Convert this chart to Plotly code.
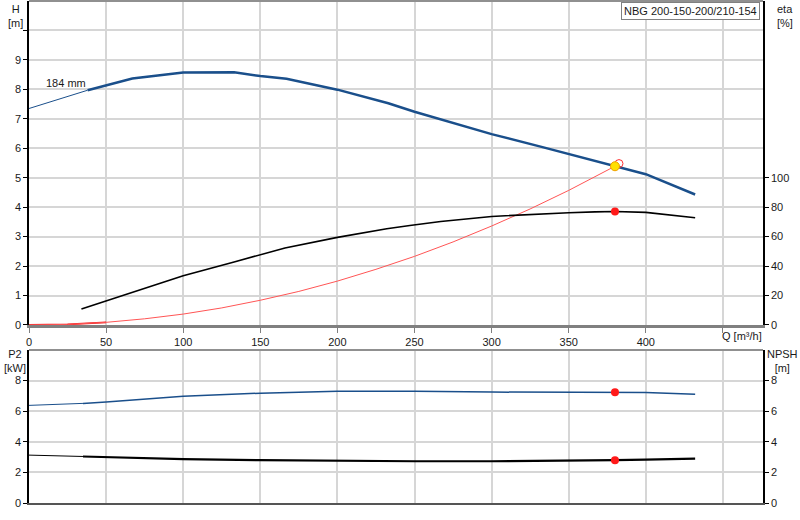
import plotly.graph_objs as go

# pump curve data
q_h_thin = [0, 38]
h_thin = [7.35, 7.97]
q_h = [38, 50, 67, 100, 133, 150, 167, 200, 233, 250, 267, 300, 333, 350, 367, 380, 400, 432]
h = [7.97, 8.14, 8.37, 8.57, 8.58, 8.45, 8.36, 7.99, 7.53, 7.24, 6.98, 6.48, 6.04, 5.81, 5.57, 5.39, 5.12, 4.43]

q_eta = [34, 67, 100, 133, 149, 166, 200, 232, 247, 267, 300, 333, 350, 367, 380, 400, 432]
eta = [10.8, 22.4, 33.5, 42.8, 47.3, 52.3, 59.5, 65.4, 67.6, 70.3, 73.7, 75.5, 76.2, 76.8, 77.1, 76.5, 72.8]

q_sys = [0, 25, 50, 75, 100, 125, 150, 175, 200, 225, 250, 275, 300, 325, 350, 380]
h_sys = [0, 0.02, 0.09, 0.21, 0.37, 0.58, 0.84, 1.14, 1.49, 1.89, 2.33, 2.82, 3.36, 3.94, 4.57, 5.39]

q_p2_thin = [0, 35]
p2_thin = [6.38, 6.51]
q_p2 = [35, 50, 100, 150, 200, 250, 300, 350, 380, 400, 432]
p2 = [6.51, 6.6, 6.97, 7.18, 7.3, 7.31, 7.25, 7.23, 7.23, 7.22, 7.1]

q_npsh_thin = [0, 35]
npsh_thin = [3.13, 3.04]
q_npsh = [35, 50, 100, 150, 200, 250, 300, 350, 380, 400, 432]
npsh = [3.04, 3.0, 2.87, 2.8, 2.76, 2.73, 2.73, 2.76, 2.8, 2.84, 2.9]

duty_q = 380
duty_h = 5.39
duty_eta = 77.1
duty_p2 = 7.23
duty_npsh = 2.8
req_q = 382.6
req_h = 5.48

x_ticks = [0, 50, 100, 150, 200, 250, 300, 350, 400, 450]
x_labels = ['0', '50', '100', '150', '200', '250', '300', '350', '400', '']
h_ticks = list(range(11))
h_labels = [str(v) for v in range(10)] + ['']
eta_ticks = [0, 20, 40, 60, 80, 100]
p_ticks = [0, 2, 4, 6, 8]

BLUE = '#1a4f8b'
GRID = '#d6d6d6'
FONT = dict(family='Arial, Liberation Sans, sans-serif', size=11, color='#1a1a1a')

fig = go.Figure()

# top panel
fig.add_trace(go.Scatter(x=q_sys[:3], y=h_sys[:3], mode='lines', line={'color': '#ee2020', 'width': 1.8}, xaxis='x', yaxis='y'))
fig.add_trace(go.Scatter(x=q_sys, y=h_sys, mode='lines', line={'color': '#ff5555', 'width': 1}, xaxis='x', yaxis='y'))
fig.add_trace(go.Scatter(x=q_h_thin, y=h_thin, mode='lines', line={'color': BLUE, 'width': 1}, xaxis='x', yaxis='y'))
fig.add_trace(go.Scatter(x=q_h, y=h, mode='lines', line={'color': BLUE, 'width': 2.5}, xaxis='x', yaxis='y'))
fig.add_trace(go.Scatter(x=q_eta, y=eta, mode='lines', line={'color': 'black', 'width': 1.6}, xaxis='x', yaxis='y2'))
fig.add_trace(go.Scatter(x=[req_q], y=[req_h], mode='markers',
                         marker={'size': 8, 'color': 'rgba(0,0,0,0)', 'line': {'color': '#ff3030', 'width': 1}},
                         xaxis='x', yaxis='y'))
fig.add_trace(go.Scatter(x=[duty_q], y=[duty_h], mode='markers',
                         marker={'size': 9, 'color': '#ffe000', 'line': {'color': '#f0a000', 'width': 1}},
                         xaxis='x', yaxis='y'))
fig.add_trace(go.Scatter(x=[duty_q], y=[duty_eta], mode='markers', marker={'size': 8, 'color': '#ff1a1a'},
                         xaxis='x', yaxis='y2'))

# bottom panel
fig.add_trace(go.Scatter(x=q_p2_thin, y=p2_thin, mode='lines', line={'color': BLUE, 'width': 1}, xaxis='x2', yaxis='y3'))
fig.add_trace(go.Scatter(x=q_p2, y=p2, mode='lines', line={'color': BLUE, 'width': 1.5}, xaxis='x2', yaxis='y3'))
fig.add_trace(go.Scatter(x=q_npsh_thin, y=npsh_thin, mode='lines', line={'color': 'black', 'width': 1}, xaxis='x2', yaxis='y4'))
fig.add_trace(go.Scatter(x=q_npsh, y=npsh, mode='lines', line={'color': 'black', 'width': 2.2}, xaxis='x2', yaxis='y4'))
fig.add_trace(go.Scatter(x=[duty_q], y=[duty_p2], mode='markers', marker={'size': 8, 'color': '#ff1a1a'},
                         xaxis='x2', yaxis='y3'))
fig.add_trace(go.Scatter(x=[duty_q], y=[duty_npsh], mode='markers', marker={'size': 8, 'color': '#ff1a1a'},
                         xaxis='x2', yaxis='y4'))

top_lo = 0.3546
bot_hi = 0.3048

fig.update_layout(
    width=800, height=520,
    margin=dict(l=29, r=37, t=1, b=17),
    plot_bgcolor='white', paper_bgcolor='white',
    font=FONT, showlegend=False,
    xaxis=dict(domain=[0, 1], range=[0, 476], tickvals=x_ticks, ticktext=x_labels,
               showgrid=True, gridcolor=GRID, gridwidth=1.5, zeroline=False,
               showline=True, linecolor='#808080', linewidth=3, automargin=False,
               ticks='outside', ticklen=5, tickcolor='#808080', anchor='y'),
    yaxis=dict(domain=[top_lo, 1], range=[0, 11], tickvals=h_ticks, ticktext=h_labels,
               showgrid=True, gridcolor=GRID, gridwidth=1.5, zeroline=False,
               showline=True, linecolor='black', linewidth=1.5, automargin=False,
               ticks='outside', ticklen=4, tickcolor='black', anchor='x'),
    yaxis2=dict(overlaying='y', side='right', range=[0, 220], tickvals=eta_ticks,
                showgrid=False, zeroline=False, showline=True, linecolor='black', linewidth=1.5,
                automargin=False, ticks='outside', ticklen=4, tickcolor='black', anchor='x'),
    xaxis2=dict(domain=[0, 1], range=[0, 476], tickvals=x_ticks, showticklabels=False,
                showgrid=True, gridcolor=GRID, gridwidth=1.5, zeroline=False, automargin=False,
                showline=True, linecolor='#555555', linewidth=1.5, anchor='y3'),
    yaxis3=dict(domain=[0, bot_hi], range=[0, 10], tickvals=p_ticks,
                showgrid=True, gridcolor=GRID, gridwidth=1.5, zeroline=False,
                showline=True, linecolor='black', linewidth=1.5, automargin=False,
                ticks='outside', ticklen=4, tickcolor='black', anchor='x2'),
    yaxis4=dict(overlaying='y3', side='right', range=[0, 10], tickvals=p_ticks,
                showgrid=False, zeroline=False, showline=True, linecolor='black', linewidth=1.5,
                automargin=False, ticks='outside', ticklen=4, tickcolor='black', anchor='x2'),
)

# grey top borders of both panels
fig.add_shape(type='line', xref='paper', yref='paper', x0=0, x1=1, y0=1, y1=1,
              line={'color': '#909090', 'width': 2})
fig.add_shape(type='line', xref='paper', yref='paper', x0=0, x1=1, y0=bot_hi, y1=bot_hi,
              line={'color': '#909090', 'width': 2})

ann = [
    dict(text='H<br>[m]', x=-0.019, y=1.0, xanchor='center', yanchor='top'),
    dict(text='eta<br>[%]', x=1.016, y=1.0, xanchor='left', yanchor='top', align='left'),
    dict(text='P2<br>[kW]', x=-0.019, y=bot_hi, yshift=4, xanchor='center', yanchor='top'),
    dict(text='NPSH<br>[m]', x=1.003, y=bot_hi, yshift=4, xanchor='left', yanchor='top'),
]
for a in ann:
    fig.add_annotation(xref='paper', yref='paper', showarrow=False, font=FONT, **a)

fig.add_annotation(text='Q [m³/h]', xref='x', yref='paper', x=448, y=top_lo, yshift=-3,
                   xanchor='left', yanchor='top', showarrow=False, font=FONT)
fig.add_annotation(text='184 mm', xref='x', yref='y', x=24, y=8.22, showarrow=False, font=FONT)
fig.add_annotation(text='NBG 200-150-200/210-154', xref='paper', yref='paper', x=0.996, y=0.999,
                   xanchor='right', yanchor='top', showarrow=False, font=FONT,
                   bgcolor='white', bordercolor='#808080', borderwidth=1, borderpad=2)

# page body has a default 8px margin; drop it so the figure fills the window
fig.write_html("out.html", config={'displayModeBar': False},
               post_script="document.body.style.margin='0';document.body.style.overflow='hidden';")
